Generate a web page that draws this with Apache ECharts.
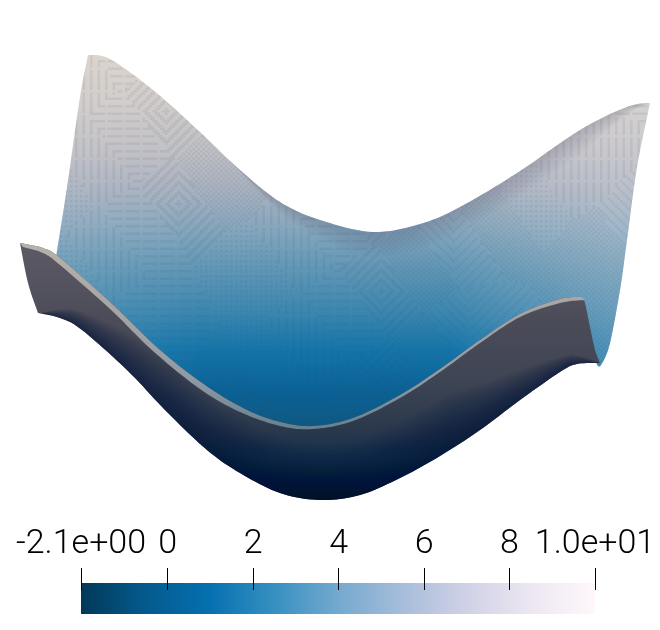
<!DOCTYPE html>
<html><head><meta charset="utf-8">
<style>html,body{margin:0;padding:0;background:#fff}#c{width:660px;height:630px}</style>
<script src="https://cdn.jsdelivr.net/npm/echarts@6/dist/echarts.min.js"></script>
</head><body><div id="c"></div>
<script>
// Scale bar
const scaleMin = -2.03, scaleMax = 10;
const tickValues = [-2.03, 0, 2, 4, 6, 8, 10];
const tickLabels = ['-2.1e+00', '0', '2', '4', '6', '8', '1.0e+01'];
const colormap = ['#023858','#045a8d','#0570b0','#3690c0','#74a9cf','#a6bddb','#d0d1e6','#ece7f2','#fff7fb'];

// Surface outlines (x, y in image units)
const backTopEdge = [[88,55],[110,59],[153,90],[200,132],[240,170],[280,202],[320,220],[373,232],[420,224],[460,207],[517,173],[580,130],[627,107],[650,103]];
const backRightEdge = [[650,103],[637,167],[627,240],[620,290],[610,343],[603,362]];
const backInnerEdge = [[603,362],[596,362],[583,300]];
const backLeftEdge = [[56,257],[67,187],[80,97],[88,55]];
const rimTop = [[20,243],[43,248],[60,258],[110,302],[160,350],[205,385],[245,409],[280,422],[313,426],[353,418],[400,395],[440,369],[480,340],[520,314],[560,299],[582,297]];
const rimLower = [[23,247],[43,253],[60,265],[110,309],[153,351],[200,389],[240,412],[280,426],[313,429],[353,421],[400,398],[440,372],[480,343],[520,317],[560,303],[585,300]];
const frontLeftEdge = [[20,243],[28,283],[38,313]];
const frontBottomEdge = [[38,313],[60,318],[82,330],[127,370],[167,412],[207,450],[240,473],[280,493],[320,500],[360,495],[400,478],[440,456],[480,430],[520,400],[560,372],[577,364],[600,363]];
const frontRightEdge = [[600,363],[595,350],[590,327],[585,303],[582,297]];

// Colours seen at heights of each sheet
const backShade = [[55,'#dcd4cc'],[100,'#d2cdca'],[150,'#c1c0c5'],[190,'#a9b2c0'],[230,'#84a6bd'],[270,'#5f96b5'],[310,'#3d87b0'],[350,'#1475a9'],[390,'#0a6297'],[430,'#0e5880']];
const frontShade = [[245,'#5c5a65'],[320,'#4c4c59'],[380,'#3e4554'],[430,'#2a384c'],[460,'#14304c'],[490,'#021a33'],[500,'#050f1f']];
const rimShade = [[243,'#b8b2ac'],[300,'#aaa6a4'],[380,'#8f9aa2'],[430,'#64808f']];
const sideShade = [[50,'rgba(225,222,225,0.10)'],[200,'rgba(225,222,225,0)'],[450,'rgba(225,222,225,0)'],[610,'rgba(225,222,225,0.28)'],[650,'rgba(225,222,225,0.3)']];

function smooth(p) {
  const out = [];
  for (let i = 0; i < p.length - 1; i++) {
    const a = p[Math.max(i-1,0)], b = p[i], c = p[i+1], d = p[Math.min(i+2,p.length-1)];
    for (let k = 0; k < 10; k++) {
      const t = k/10, t2 = t*t, t3 = t2*t;
      out.push([0,1].map(n => 0.5*((2*b[n]) + (c[n]-a[n])*t + (2*a[n]-5*b[n]+4*c[n]-d[n])*t2 + (3*b[n]-a[n]-3*c[n]+d[n])*t3)));
    }
  }
  out.push(p[p.length-1]);
  return out;
}
function rev(a){ return a.slice().reverse(); }
function linear(stops, api, horizontal) {
  const lo = stops[0][0], hi = stops[stops.length-1][0];
  const a = horizontal ? api.coord([lo,0]) : api.coord([0,lo]);
  const b = horizontal ? api.coord([hi,0]) : api.coord([0,hi]);
  return {type:'linear', global:true, x:a[0], y:a[1], x2:b[0], y2:b[1],
    colorStops: stops.map(s => ({offset:(s[0]-lo)/(hi-lo), color:s[1]}))};
}
// Fine mesh-shading look of the back sheet: patches of small cells
function texture() {
  const cell = 2.5, W = 264, H = 252, cv = document.createElement('canvas');
  cv.width = 660; cv.height = 630;
  const g = cv.getContext('2d');
  g.fillStyle = 'rgba(60,75,95,0.09)';
  const patches = [];
  for (let k = 1; k <= 90; k++) patches.push([(k*0.618034%1)*W, (k*0.754878%1)*H, k%7]);
  for (let j = 0; j < H; j++) for (let i = 0; i < W; i++) {
    let best = 1e9, p = patches[0];
    patches.forEach(q => { const d = (q[0]-i)*(q[0]-i)+(q[1]-j)*(q[1]-j); if (d < best) { best = d; p = q; } });
    const di = Math.abs(i-Math.round(p[0])), dj = Math.abs(j-Math.round(p[1]));
    let on;
    switch (p[2]) {
      case 0: case 5: on = (i+j)%2 === 0; break;
      case 1: on = (di+dj)%4 < 2; break;
      case 2: on = j%3 === 0 && i%7 !== 0; break;
      case 3: on = i%3 === 0 && j%9 !== 0; break;
      case 4: on = i%2 === 0 && j%2 === 0; break;
      default: on = (di+j)%4 === 0;
    }
    if (on) g.fillRect(i*cell, j*cell, cell, cell);
  }
  return cv;
}
const tile = texture();

function sheet(name, edges, fillFn, z) {
  const pts = edges.reduce((acc, e) => acc.concat(e), []);
  return {
    type:'custom', name, coordinateSystem:'cartesian2d', xAxisIndex:0, yAxisIndex:0, z, silent:true, clip:false,
    data: pts,
    renderItem(params, api) {
      if (params.dataIndex !== 0) return null;
      let poly = [];
      edges.forEach(e => { poly = poly.concat(smooth(e)); });
      return {type:'polygon', shape:{points: poly.map(p => api.coord(p))}, style:{fill: fillFn(api), stroke:null}};
    }
  };
}
// Darkening that runs along an edge of a sheet, fading inward
function edgeBand(name, edge, dir, steps, stepLen, color, weight, z) {
  return {
    type:'custom', name, coordinateSystem:'cartesian2d', xAxisIndex:0, yAxisIndex:0, z, silent:true, clip:false,
    data: edge,
    renderItem(params, api) {
      if (params.dataIndex !== 0) return null;
      const base = smooth(edge), children = [];
      for (let s = 1; s <= steps; s++) {
        const inner = base.map(p => [p[0], p[1] + dir*s*stepLen*weight(p[0])]);
        children.push({type:'polygon', shape:{points: base.concat(rev(inner)).map(p => api.coord(p))}, style:{fill:color, stroke:null}});
      }
      return {type:'group', children};
    }
  };
}
const clamp01 = v => Math.max(0, Math.min(1, v));

const backEdges = [backTopEdge, backRightEdge, backInnerEdge, rev(rimLower).slice(0,-2), backLeftEdge];
const frontEdges = [frontLeftEdge, frontBottomEdge, frontRightEdge, rev(rimTop)];
const rimEdges = [rimTop, rev(rimLower)];

const chart = echarts.init(document.getElementById('c'), null, {renderer:'canvas'});
chart.setOption({
  animation:false,
  backgroundColor:'#ffffff',
  grid:[{left:0, top:0, width:660, height:630},{left:81, top:568, width:514, height:46}],
  xAxis:[
    {gridIndex:0, type:'value', min:0, max:660, show:false},
    {gridIndex:1, type:'value', min:scaleMin, max:scaleMax, position:'top', z:10,
     axisLine:{show:false}, splitLine:{show:false},
     axisTick:{show:true, inside:true, length:22, customValues:tickValues, lineStyle:{color:'#000', width:1}},
     axisLabel:{show:true, inside:false, margin:7, fontFamily:'Roboto', fontWeight:300, fontSize:34, color:'#000',
       customValues:tickValues, hideOverlap:false, showMinLabel:true, showMaxLabel:true,
       formatter:(v)=>{ const i = tickValues.indexOf(v); return i>=0 ? tickLabels[i] : ''; }}}
  ],
  yAxis:[
    {gridIndex:0, type:'value', min:0, max:630, inverse:true, show:false},
    {gridIndex:1, type:'value', min:0, max:46, inverse:true, show:false}
  ],
  series:[
    sheet('back', backEdges, api => linear(backShade, api, false), 1),
    sheet('backSides', backEdges, api => linear(sideShade, api, true), 2),
    sheet('backTexture', backEdges, () => ({image:tile, repeat:'no-repeat'}), 3),
    edgeBand('backTopShade', backTopEdge, 1, 7, 3.5, 'rgba(85,95,105,0.035)', x => clamp01((x-230)/120)*clamp01((650-x)/70), 3),
    sheet('front', frontEdges, api => linear(frontShade, api, false), 4),
    edgeBand('frontBottomShade', frontBottomEdge, -1, 16, 3.5, 'rgba(2,26,51,0.05)', x => clamp01((x-40)/130)*clamp01((600-x)/150), 4),
    sheet('rim', rimEdges, api => linear(rimShade, api, false), 5),
    {
      type:'custom', name:'scale', coordinateSystem:'cartesian2d', xAxisIndex:1, yAxisIndex:1, z:1, silent:true,
      data:[[scaleMin, scaleMax]],
      renderItem(params, api) {
        const a = api.coord([api.value(0), 15]), b = api.coord([api.value(1), 46]);
        return {type:'rect', shape:{x:a[0], y:a[1], width:b[0]-a[0], height:b[1]-a[1]},
          style:{fill:{type:'linear', x:0, y:0, x2:1, y2:0,
            colorStops:colormap.map((c,i)=>({offset:i/(colormap.length-1), color:c}))}}};
      }
    }
  ]
});
</script></body></html>
